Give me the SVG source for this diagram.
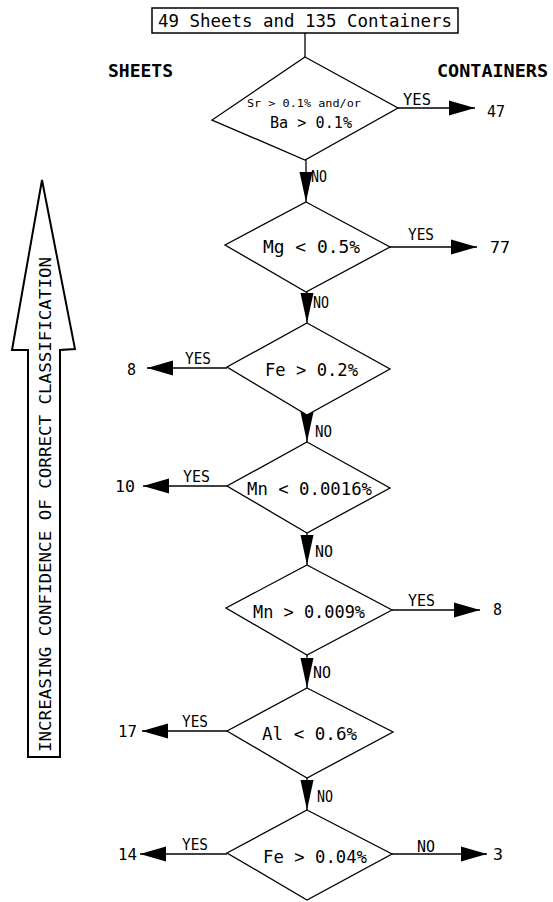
<svg xmlns="http://www.w3.org/2000/svg" width="553" height="902" viewBox="0 0 553 902">
<style>
.ln{stroke:#000;stroke-width:1.3;fill:none}
.dm{fill:#fff;stroke:#000;stroke-width:1.3}
.t{font-family:"DejaVu Sans Mono","Liberation Mono",monospace;fill:#000;font-size:17px}
.s{font-size:15px}
.n{font-size:16px}
.b{font-weight:bold;font-size:18px}
</style>
<defs>
<marker id="ah" markerUnits="userSpaceOnUse" markerWidth="26" markerHeight="16" refX="26" refY="8" orient="auto"><path d="M0,0.5 L26,8 L0,15.5 Z" fill="#000"/></marker>
<marker id="av" markerUnits="userSpaceOnUse" markerWidth="30" markerHeight="14" refX="30" refY="7" orient="auto"><path d="M0,0.5 L30,7 L0,13.5 Z" fill="#000"/></marker>
</defs>
<rect width="553" height="902" fill="#fff"/>

<g id="title">
<rect x="152" y="8" width="306" height="25" fill="#fff" stroke="#000" stroke-width="1.5"/>
<text class="t" x="158" y="27" textLength="294" lengthAdjust="spacingAndGlyphs">49 Sheets and 135 Containers</text>
</g>

<g id="headers">
<text class="t b" x="108" y="77" textLength="65" lengthAdjust="spacingAndGlyphs">SHEETS</text>
<text class="t b" x="437" y="77" textLength="111" lengthAdjust="spacingAndGlyphs">CONTAINERS</text>
</g>

<g id="confidence-arrow">
<polygon points="42,180 75,349 60,350 60,757 28,757 28,350 12,350" fill="#fff" stroke="#000" stroke-width="2"/>
<text class="t n" transform="translate(51,752) rotate(-90)" x="0" y="0" textLength="495" lengthAdjust="spacingAndGlyphs">INCREASING CONFIDENCE OF CORRECT CLASSIFICATION</text>
</g>

<g id="connectors">
<path class="ln" d="M305,33 V57"/>
<path class="ln" d="M306,160 V202" marker-end="url(#av)"/>
<path class="ln" d="M307,292 V323" marker-end="url(#av)"/>
<path class="ln" d="M307,415 V442" marker-end="url(#av)"/>
<path class="ln" d="M307,533 V565" marker-end="url(#av)"/>
<path class="ln" d="M307,655 V688" marker-end="url(#av)"/>
<path class="ln" d="M307,778 V810" marker-end="url(#av)"/>
<path class="ln" d="M398,108 H475" marker-end="url(#ah)"/>
<path class="ln" d="M390,247 H477" marker-end="url(#ah)"/>
<path class="ln" d="M227,368 H147" marker-end="url(#ah)"/>
<path class="ln" d="M227,486 H143" marker-end="url(#ah)"/>
<path class="ln" d="M392,610 H480" marker-end="url(#ah)"/>
<path class="ln" d="M227,731 H142" marker-end="url(#ah)"/>
<path class="ln" d="M227,854 H140" marker-end="url(#ah)"/>
<path class="ln" d="M392,854 H487" marker-end="url(#ah)"/>
<text class="t s" x="403" y="105" textLength="28" lengthAdjust="spacingAndGlyphs">YES</text>
<text class="t s" x="408" y="240" textLength="26" lengthAdjust="spacingAndGlyphs">YES</text>
<text class="t s" x="185" y="364" textLength="26" lengthAdjust="spacingAndGlyphs">YES</text>
<text class="t s" x="183" y="482" textLength="27" lengthAdjust="spacingAndGlyphs">YES</text>
<text class="t s" x="408" y="606" textLength="27" lengthAdjust="spacingAndGlyphs">YES</text>
<text class="t s" x="182" y="727" textLength="26" lengthAdjust="spacingAndGlyphs">YES</text>
<text class="t s" x="182" y="850" textLength="26" lengthAdjust="spacingAndGlyphs">YES</text>
<text class="t s" x="417" y="852" textLength="18" lengthAdjust="spacingAndGlyphs">NO</text>
<text class="t s" x="311" y="182" textLength="16" lengthAdjust="spacingAndGlyphs">NO</text>
<text class="t s" x="313" y="308" textLength="16" lengthAdjust="spacingAndGlyphs">NO</text>
<text class="t s" x="315" y="437" textLength="17" lengthAdjust="spacingAndGlyphs">NO</text>
<text class="t s" x="315" y="557" textLength="18" lengthAdjust="spacingAndGlyphs">NO</text>
<text class="t s" x="313" y="678" textLength="18" lengthAdjust="spacingAndGlyphs">NO</text>
<text class="t s" x="317" y="802" textLength="16" lengthAdjust="spacingAndGlyphs">NO</text>
</g>

<g id="d1">
<polygon class="dm" points="305,57 398,108 305,160 212,120"/>
<text class="t" style="font-size:11px" x="247" y="107" textLength="114" lengthAdjust="spacingAndGlyphs">Sr &gt; 0.1% and/or</text>
<text class="t s" x="270" y="128" textLength="82" lengthAdjust="spacingAndGlyphs">Ba &gt; 0.1%</text>
</g>
<g id="d2">
<polygon class="dm" points="306,202 390,247 306,292 225,245"/>
<text class="t" x="263" y="253" textLength="97" lengthAdjust="spacingAndGlyphs">Mg &lt; 0.5%</text>
</g>
<g id="d3">
<polygon class="dm" points="307,323 390,369 307,415 227,367"/>
<text class="t" x="265" y="376" textLength="93" lengthAdjust="spacingAndGlyphs">Fe &gt; 0.2%</text>
</g>
<g id="d4">
<polygon class="dm" points="307,442 390,488 307,533 227,486"/>
<text class="t" x="247" y="495" textLength="125" lengthAdjust="spacingAndGlyphs">Mn &lt; 0.0016%</text>
</g>
<g id="d5">
<polygon class="dm" points="307,565 392,610 307,655 226,608"/>
<text class="t" x="253" y="618" textLength="112" lengthAdjust="spacingAndGlyphs">Mn &gt; 0.009%</text>
</g>
<g id="d6">
<polygon class="dm" points="307,688 393,732 307,778 227,731"/>
<text class="t" x="262" y="740" textLength="95" lengthAdjust="spacingAndGlyphs">Al &lt; 0.6%</text>
</g>
<g id="d7">
<polygon class="dm" points="307,810 392,854 307,900 227,853"/>
<text class="t" x="263" y="863" textLength="104" lengthAdjust="spacingAndGlyphs">Fe &gt; 0.04%</text>
</g>

<g id="results">
<text class="t n" x="487" y="117" textLength="18" lengthAdjust="spacingAndGlyphs">47</text>
<text class="t n" x="490" y="253" textLength="20" lengthAdjust="spacingAndGlyphs">77</text>
<text class="t n" x="127" y="375" textLength="9" lengthAdjust="spacingAndGlyphs">8</text>
<text class="t n" x="115" y="492" textLength="20" lengthAdjust="spacingAndGlyphs">10</text>
<text class="t n" x="493" y="615" textLength="9" lengthAdjust="spacingAndGlyphs">8</text>
<text class="t n" x="118" y="737" textLength="19" lengthAdjust="spacingAndGlyphs">17</text>
<text class="t n" x="118" y="860" textLength="19" lengthAdjust="spacingAndGlyphs">14</text>
<text class="t n" x="493" y="860" textLength="10" lengthAdjust="spacingAndGlyphs">3</text>
</g>
</svg>
